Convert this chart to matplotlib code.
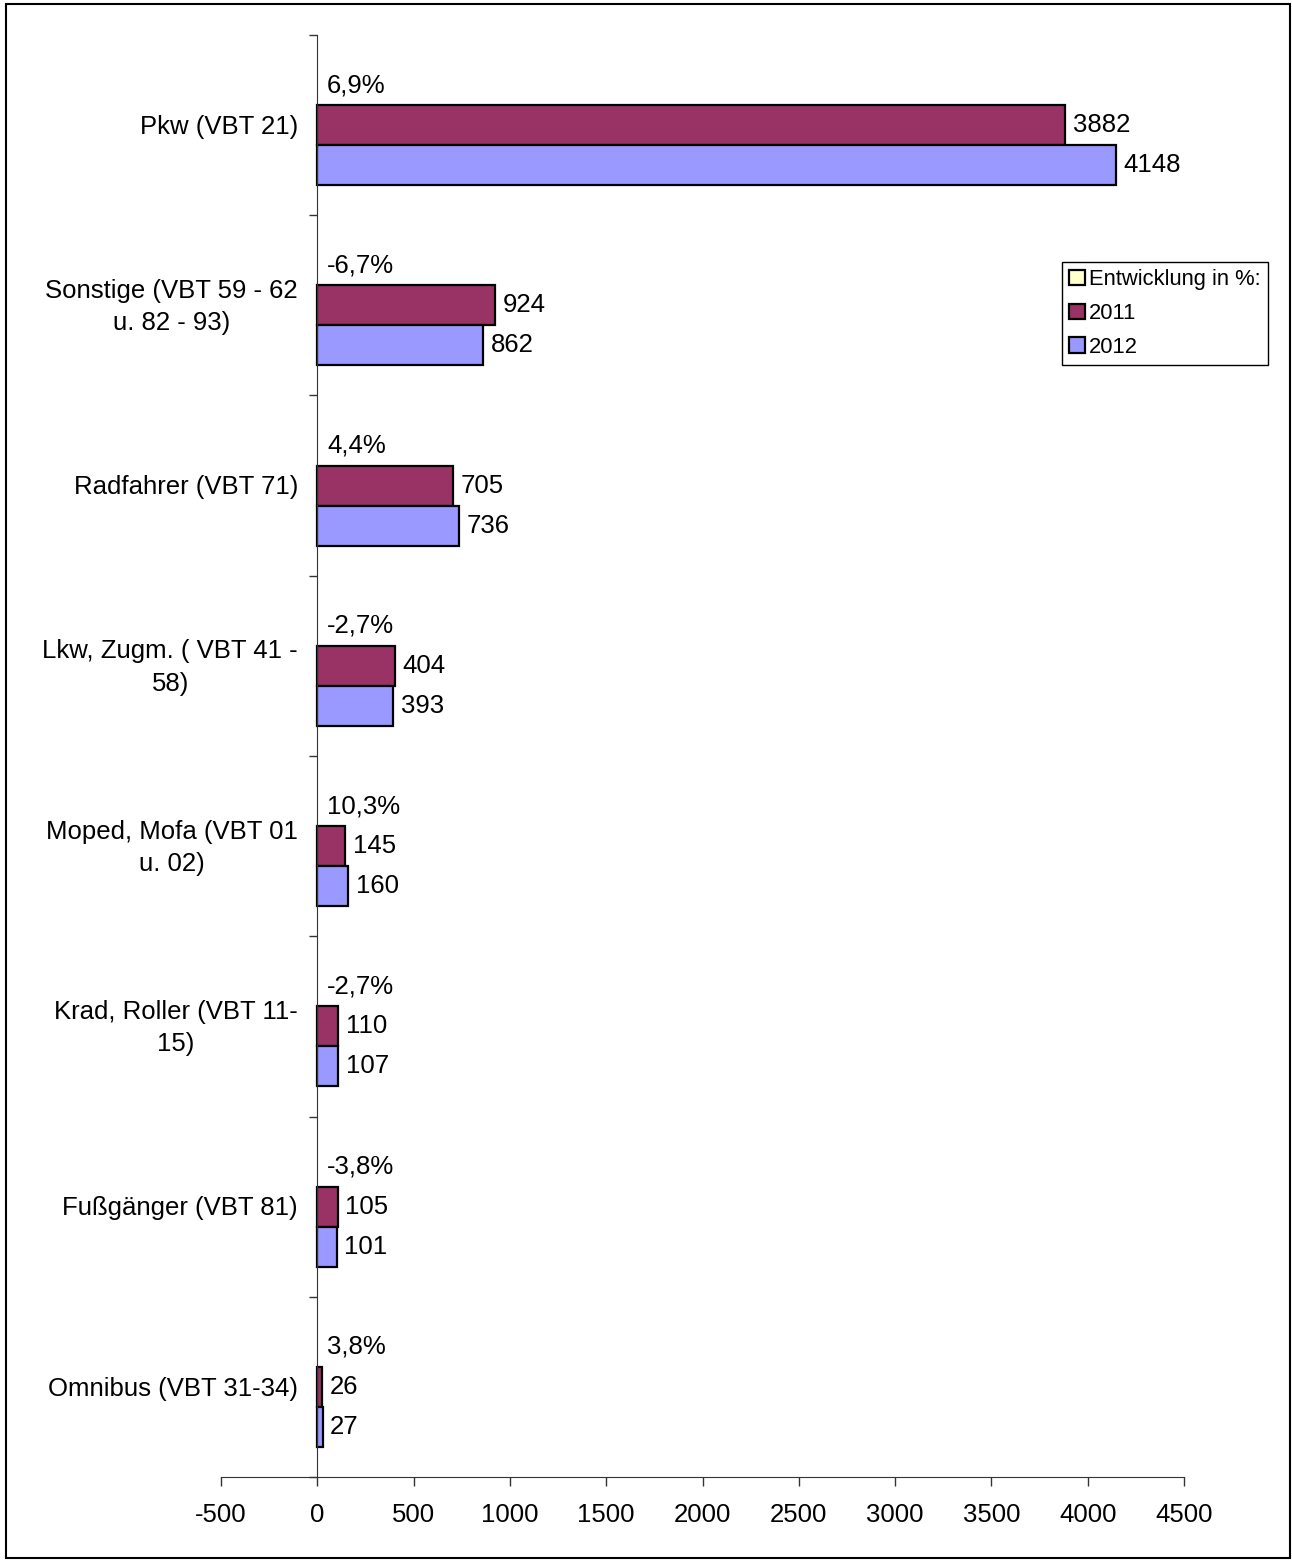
import matplotlib
matplotlib.use("Agg")
import matplotlib.pyplot as plt
from matplotlib.patches import Patch, Rectangle
import numpy as np

plt.rcParams['font.family'] = ['Liberation Sans', 'DejaVu Sans']

categories = ["Pkw (VBT 21)", "Sonstige (VBT 59 - 62\nu. 82 - 93)", "Radfahrer (VBT 71)",
              "Lkw, Zugm. ( VBT 41 -\n58)", "Moped, Mofa (VBT 01\nu. 02)",
              "Krad, Roller (VBT 11-\n15)", "Fußgänger (VBT 81)", "Omnibus (VBT 31-34)"]
pct_labels = ["6,9%", "-6,7%", "4,4%", "-2,7%", "10,3%", "-2,7%", "-3,8%", "3,8%"]
v2011 = [3882, 924, 705, 404, 145, 110, 105, 26]
v2012 = [4148, 862, 736, 393, 160, 107, 101, 27]
xticks = [-500, 0, 500, 1000, 1500, 2000, 2500, 3000, 3500, 4000, 4500]

c_pct = "#FFFFCC"
c_2011 = "#993366"
c_2012 = "#9999FF"
FS = 18.5

fig = plt.figure(figsize=(12.92, 15.60), dpi=100)
ax = fig.add_axes([221/1292, 1 - 1477/1560, (1184-221)/1292, (1477-35)/1560])

y = np.arange(len(categories))
h = 40/180
ax.barh(y, v2011, height=h, color=c_2011, edgecolor="black", linewidth=1.6)
ax.barh(y + h, v2012, height=h, color=c_2012, edgecolor="black", linewidth=1.6)

for i in range(len(categories)):
    ax.annotate(pct_labels[i], (0, y[i] - h), xytext=(7, 0), textcoords="offset points",
                ha="left", va="center", fontsize=FS)
    ax.annotate(str(v2011[i]), (v2011[i], y[i]), xytext=(5.5, 0), textcoords="offset points",
                ha="left", va="center", fontsize=FS)
    ax.annotate(str(v2012[i]), (v2012[i], y[i] + h), xytext=(5.5, 0), textcoords="offset points",
                ha="left", va="center", fontsize=FS)
    ax.text((298 - 221) / 963, y[i] + 0.01, categories[i], transform=ax.get_yaxis_transform(),
            ha="right", va="center", multialignment="center", fontsize=FS, linespacing=1.45)

ax.set_xlim(-500, 4500)
ax.set_ylim(len(categories) - 0.5, -0.5)
ax.set_xticks(xticks)
ax.set_xticklabels([str(t) for t in xticks])
ax.tick_params(axis="x", direction="out", length=6.5, width=1, pad=12, color="#333333",
               labelsize=FS)

ax.set_yticks([])
ax.set_yticks(np.arange(len(categories) + 1) - 0.5, minor=True)
ax.tick_params(axis="y", which="minor", length=6, width=1, direction="out", color="#333333",
               labelleft=False)

for s in ["top", "right"]:
    ax.spines[s].set_visible(False)
ax.spines["left"].set_position(("data", 0))
ax.spines["left"].set_color("#333333")
ax.spines["bottom"].set_color("#333333")
ax.patch.set_alpha(0)

handles = [Patch(facecolor=c_pct, edgecolor="black", linewidth=1.6),
           Patch(facecolor=c_2011, edgecolor="black", linewidth=1.6),
           Patch(facecolor=c_2012, edgecolor="black", linewidth=1.6)]
leg = fig.legend(handles, ["Entwicklung in %:", "2011", "2012"], loc="upper left",
                 bbox_to_anchor=(1062/1292, 1 - 262/1560), fontsize=15.8, fancybox=False,
                 framealpha=1, edgecolor="black", handlelength=0.7, handleheight=0.7,
                 handletextpad=0.2, borderpad=0.33, labelspacing=0.58, borderaxespad=0)
leg.get_frame().set_linewidth(1)

fig.patches.append(Rectangle((6/1292, 2/1560), 1284/1292, 1554/1560, transform=fig.transFigure,
                             fill=False, edgecolor="black", linewidth=1.5))

fig.savefig("out.png", dpi=100)
